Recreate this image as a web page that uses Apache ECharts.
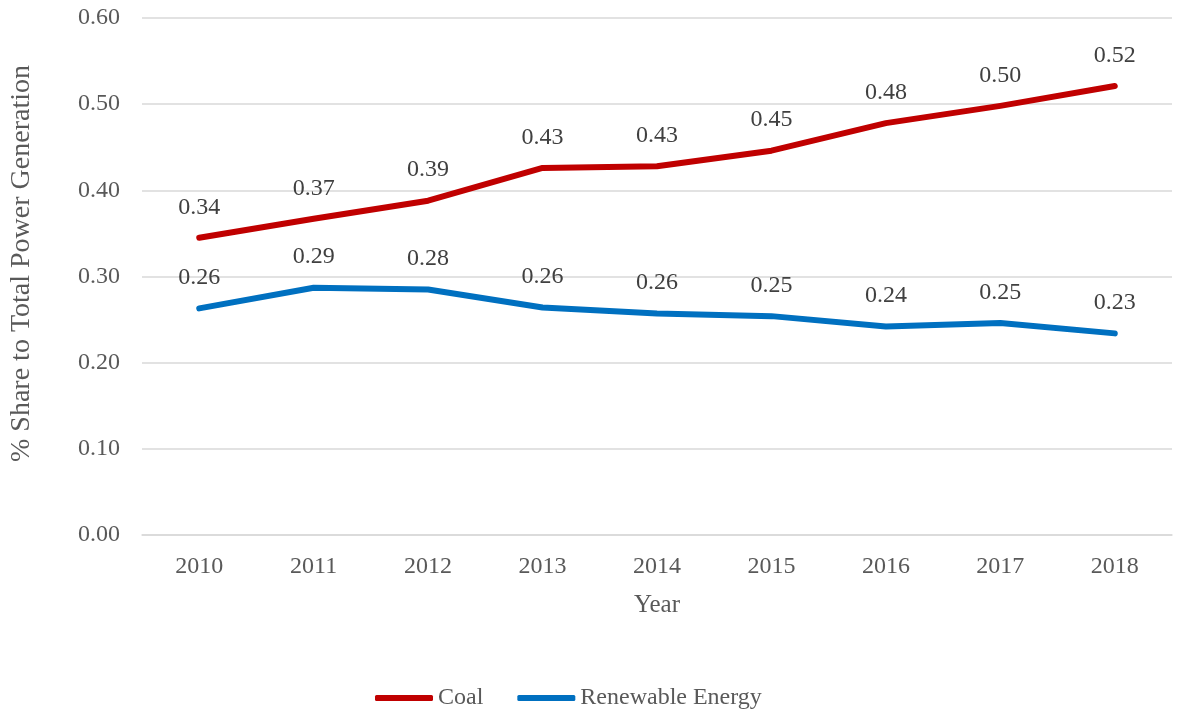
<!DOCTYPE html>
<html>
<head>
<meta charset="utf-8">
<style>
  html, body { margin: 0; padding: 0; background: #fff; }
  #chart { width: 1177px; height: 715px; }
</style>
<script src="https://cdn.jsdelivr.net/npm/echarts@6/dist/echarts.min.js"></script>
</head>
<body>
<div id="chart"></div>
<script>
  // data
  const years = ['2010', '2011', '2012', '2013', '2014', '2015', '2016', '2017', '2018'];
  const coal = [0.345, 0.367, 0.388, 0.426, 0.428, 0.446, 0.478, 0.498, 0.521];
  const renewable = [0.263, 0.287, 0.285, 0.264, 0.257, 0.254, 0.242, 0.246, 0.234];

  const font = 'Liberation Serif';
  const textColor = '#595959';

  const chart = echarts.init(document.getElementById('chart'));

  const labelCfg = {
    show: true,
    position: 'top',
    distance: 18,
    fontFamily: font,
    fontSize: 24,
    color: '#404040',
    formatter: (p) => p.value.toFixed(2),
  };

  chart.setOption({
    animation: false,
    textStyle: { fontFamily: font },
    grid: { left: 140, right: 5, top: 18, bottom: 180 },
    legend: {
      bottom: 0,
      left: 370,
      itemWidth: 58,
      itemHeight: 6,
      itemGap: 34,
      icon: 'roundRect',
      textStyle: { fontFamily: font, fontSize: 24, color: textColor },
      data: ['Coal', 'Renewable Energy'],
    },
    xAxis: {
      type: 'category',
      data: years,
      name: 'Year',
      nameLocation: 'middle',
      nameGap: 58,
      nameTextStyle: { fontFamily: font, fontSize: 25, color: textColor },
      axisLine: { lineStyle: { color: '#d9d9d9', width: 1.5 } },
      axisTick: { show: false },
      axisLabel: { fontFamily: font, fontSize: 24, color: textColor, margin: 20 },
    },
    yAxis: {
      type: 'value',
      min: 0,
      max: 0.6,
      interval: 0.1,
      name: '% Share to Total Power Generation',
      nameLocation: 'middle',
      nameGap: 106,
      nameTextStyle: {
        fontFamily: font, fontSize: 28, color: textColor,
        padding: [0, 0, 0, 26],
      },
      axisLine: { show: false },
      axisTick: { show: false },
      splitLine: { lineStyle: { color: '#d9d9d9', width: 1.5 } },
      axisLabel: {
        fontFamily: font, fontSize: 24, color: textColor, margin: 22,
        formatter: (v) => v.toFixed(2),
      },
    },
    series: [
      {
        name: 'Coal',
        type: 'line',
        data: coal,
        symbol: 'circle',
        symbolSize: 1,
        showSymbol: true,
        color: '#C00000',
        lineStyle: { width: 6, cap: 'round', join: 'round' },
        label: labelCfg,
      },
      {
        name: 'Renewable Energy',
        type: 'line',
        data: renewable,
        symbol: 'circle',
        symbolSize: 1,
        showSymbol: true,
        color: '#0070C0',
        lineStyle: { width: 6, cap: 'round', join: 'round' },
        label: labelCfg,
      },
    ],
  });
</script>
</body>
</html>
